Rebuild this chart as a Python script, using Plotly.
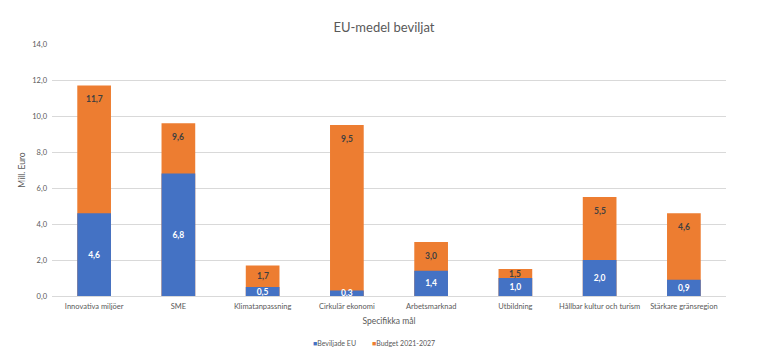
import plotly.graph_objects as go

categories = ["Innovativa miljöer", "SME", "Klimatanpassning", "Cirkulär ekonomi",
              "Arbetsmarknad", "Utbildning", "Hållbar kultur och turism", "Stärkare gränsregion"]
beviljade = [4.6, 6.8, 0.5, 0.3, 1.4, 1.0, 2.0, 0.9]
budget = [11.7, 9.6, 1.7, 9.5, 3.0, 1.5, 5.5, 4.6]
y_ticks = [0, 2, 4, 6, 8, 10, 12, 14]
y_tick_labels = ["0,0", "2,0", "4,0", "6,0", "8,0", "10,0", "12,0", "14,0"]
series_names = ["Beviljade EU", "Budget 2021-2027"]
series_colors = ["#4472C4", "#ED7D31"]

def fmt(v):
    return "<b>" + f"{v:.1f}".replace(".", ",") + "</b>"

FONT = "Lato"
W, H = 760, 351  # page body has an 8px margin
L, R, T, B = 44, 42, 36, 63
Y_MAX = 14
PLOT_H = H - T - B
PLOT_W = W - L - R
inset = 14 * Y_MAX / PLOT_H  # label inset from bar top (14 px) in data units

fig = go.Figure()
fig.add_trace(go.Bar(
    x=categories, y=budget, name=series_names[1],
    marker=dict(color=series_colors[1], line=dict(width=0)),
    width=0.4, showlegend=False,
))
fig.add_trace(go.Bar(
    x=categories, y=beviljade, name=series_names[0],
    marker=dict(color=series_colors[0], line=dict(width=0)),
    text=[fmt(v) for v in beviljade], textposition="inside", insidetextanchor="middle",
    textfont=dict(color="white", size=8.5, family=FONT), textangle=0,
    width=0.4, showlegend=False,
))

annotations = []
for c, b, v in zip(categories, budget, beviljade):
    annotations.append(dict(
        x=c, y=max(b - inset, (b + v) / 2), xref="x", yref="y",
        text=fmt(b), showarrow=False, xanchor="center", yanchor="middle",
        font=dict(size=8.5, color="#404040", family=FONT)))

# legend entries (window x of each entry's left edge)
legend_left_px = [311, 370]
for name, color, lx in zip(series_names, series_colors, legend_left_px):
    annotations.append(dict(
        text=f'<span style="color:{color}">■</span>{name}',
        xref="paper", yref="paper",
        x=(lx - 8 - L) / PLOT_W, y=-(335 - (H - B)) / PLOT_H,
        xanchor="left", yanchor="middle", showarrow=False,
        font=dict(size=7, color="#595959", family=FONT)))

fig.update_layout(
    width=W, height=H,
    barmode="overlay",
    paper_bgcolor="white", plot_bgcolor="white",
    font=dict(family=FONT, color="#595959", size=8),
    title=dict(text="EU-medel beviljat", x=(384 - 8) / W, xanchor="center",
               yref="container", y=1 - 19 / H, yanchor="middle",
               font=dict(size=13, color="#595959", family=FONT)),
    margin=dict(l=L, r=R, t=T, b=B, autoexpand=False),
    uniformtext=dict(minsize=6, mode="show"),
    showlegend=False,
    annotations=annotations,
    xaxis=dict(title=dict(text="Specifikka mål", font=dict(size=8.5, color="#595959"), standoff=8),
               tickfont=dict(size=7.5, color="#595959"), showgrid=False,
               showline=True, linecolor="#d9d9d9", linewidth=1, ticks="",
               ticklabelstandoff=3, automargin=False),
    yaxis=dict(title=dict(text="Mill. Euro", font=dict(size=8.5, color="#595959"), standoff=5),
               range=[0, Y_MAX], tickvals=y_ticks, ticktext=y_tick_labels,
               tickfont=dict(size=7.5, color="#595959"),
               showgrid=True, gridcolor="#d9d9d9", gridwidth=1, zeroline=False,
               showline=False, ticks="", ticklabelstandoff=4, automargin=False),
)

fig.write_html("out.html")
